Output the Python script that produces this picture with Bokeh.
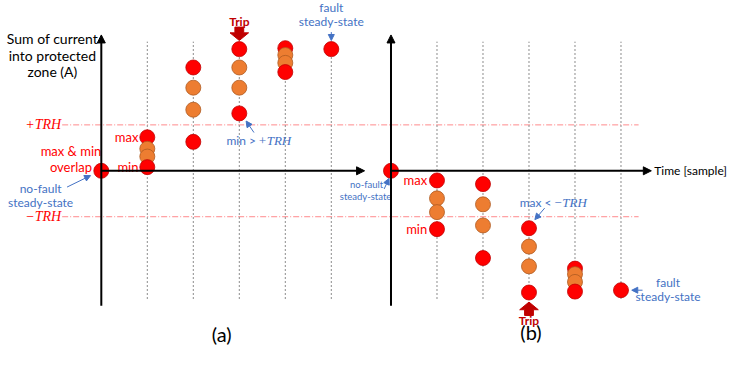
from bokeh.plotting import figure
from bokeh.models import Range1d, Arrow, NormalHead
from bokeh.core.properties import value
from bokeh.embed import file_html
from bokeh.resources import INLINE

# ---------------- data (current in units of TRH, time in samples) ----------------
TRH = 1.0
samples = [1, 2, 3, 4]
guide_samples = [1, 2, 3, 4, 5]
steady_samples = [0, 5]

# panel (a): positive fault
a_max = [0.73, 2.25, 2.65, 2.67]
a_upper = [0.48, 1.81, 2.25, 2.52]
a_lower = [0.31, 1.33, 1.81, 2.35]
a_min = [0.08, 0.63, 1.25, 2.15]
a_steady = [0.0, 2.65]

# panel (b): negative fault
b_max = [-0.21, -0.29, -1.25, -2.13]
b_upper = [-0.60, -0.73, -1.65, -2.25]
b_lower = [-0.90, -1.19, -2.08, -2.42]
b_min = [-1.27, -1.90, -2.65, -2.63]
b_steady = [0.0, -2.60]

# ---------------- layout helpers ----------------
PX_X = 47.0   # pixels per sample
PX_Y = 48.0   # pixels per TRH
ORIG_X, ORIG_Y = 103.0, 178.0


def X(px):
    return (px - ORIG_X) / PX_X


def Y(py):
    return (ORIG_Y - py) / PX_Y


B_OFF = X(399)
AX_TOP, AX_BOT = Y(36), Y(319)
GUIDE_TOP, GUIDE_BOT = Y(43), Y(312)

RED = "#FF0000"
RED_LINE = "#C00000"
ORANGE = "#ED7D31"
ORANGE_LINE = "#AE5A21"
BLUE = "#4472C4"
DARKRED = "#C00000"
FONT = value("Lato")
MATH = value("Liberation Serif")

p = figure(width=735, height=354, x_range=Range1d(X(0), X(751)),
           y_range=Range1d(Y(370), Y(0)), output_backend="svg",
           toolbar_location=None, min_border=0)
p.xaxis.visible = False
p.yaxis.visible = False
p.xgrid.grid_line_color = None
p.ygrid.grid_line_color = None
p.outline_line_color = None
p.background_fill_color = "white"

# TRH lines
for lvl in (TRH, -TRH):
    p.segment(x0=[X(63)], y0=[lvl], x1=[X(652)], y1=[lvl], line_color="#FF8A8C",
              line_width=1, line_dash="6 2 1 2")

# vertical guides
for off in (0.0, B_OFF):
    xs = [s + off for s in guide_samples]
    p.segment(x0=xs, y0=[GUIDE_BOT] * len(xs), x1=xs, y1=[GUIDE_TOP] * len(xs),
              line_color="#8C8C8C", line_width=1, line_dash="2 2")

# axes as arrows
for off, xend in ((0.0, X(372)), (B_OFF, X(665))):
    p.add_layout(Arrow(end=NormalHead(size=8, fill_color="black", line_color="black"),
                       x_start=off, y_start=AX_BOT, x_end=off, y_end=AX_TOP,
                       line_color="black", line_width=2))
    p.add_layout(Arrow(end=NormalHead(size=8, fill_color="black", line_color="black"),
                       x_start=off, y_start=0, x_end=xend, y_end=0,
                       line_color="black", line_width=2))

# points
for off, mx, up, lo, mn, st in ((0.0, a_max, a_upper, a_lower, a_min, a_steady),
                                (B_OFF, b_max, b_upper, b_lower, b_min, b_steady)):
    xs = [s + off for s in samples]
    p.scatter(xs, mx, size=15, fill_color=RED, line_color=RED_LINE, line_width=0.8)
    p.scatter(xs, up, size=15, fill_color=ORANGE, line_color=ORANGE_LINE, line_width=0.8)
    p.scatter(xs, lo, size=15, fill_color=ORANGE, line_color=ORANGE_LINE, line_width=0.8)
    p.scatter(xs, mn, size=15, fill_color=RED, line_color=RED_LINE, line_width=0.8)
    p.scatter([s + off for s in steady_samples], st, size=15, fill_color=RED,
              line_color=RED_LINE, line_width=0.8)


def txt(x, y, s, color="black", size="13px", align="center", font=FONT,
        style="normal", baseline="middle"):
    p.text(x=[x], y=[y], text=[s], text_color=color, text_font=font,
           text_font_size=size, text_align=align, text_baseline=baseline,
           text_font_style=style)


def arrow(x0, y0, x1, y1, color=BLUE, size=6):
    p.add_layout(Arrow(end=NormalHead(size=size, fill_color=color, line_color=color),
                       x_start=x0, y_start=y0, x_end=x1, y_end=y1,
                       line_color=color, line_width=1))


def block_arrow(cx, tip, direction, color=DARKRED):
    # direction -1: pointing down, +1: pointing up (in data y)
    sw, hw, hl, sl = 4.5 / PX_X, 9.5 / PX_X, 8 / PX_Y, 6 / PX_Y
    d = direction
    base = tip - d * hl
    tail = base - d * sl
    xs = [cx - sw, cx + sw, cx + sw, cx + hw, cx, cx - hw, cx - sw]
    ys = [tail, tail, base, base, tip, base, base]
    p.patch(xs, ys, fill_color=color, line_color=color)


# ---- panel (a) annotations ----
for i, line in enumerate(["Sum of current", "into protected", "zone (A)"]):
    txt(X(53), Y(40 + 17 * i), line, size="14px")
txt(X(72), Y(157), "max & min", color=RED)
txt(X(72), Y(174), "overlap", color=RED)
txt(X(41), Y(197), "no-fault", color=BLUE, size="12px")
txt(X(41), Y(211), "steady-state", color=BLUE, size="12px")
arrow(X(68), Y(195), X(92), Y(183))
txt(X(62), TRH, "+TRH", color=RED, size="14px", align="right", font=MATH, style="italic")
txt(X(62), -TRH, "\u2212TRH", color=RED, size="14px", align="right", font=MATH,
    style="italic")
txt(samples[0] - 9 / PX_X, a_max[0], "max", color=RED, align="right")
txt(samples[0] - 9 / PX_X, a_min[0], "min", color=RED, align="right")
txt(X(261), Y(146), "min >", color=BLUE, size="12px", align="right")
txt(X(263), Y(146), "+TRH", color=BLUE, size="13px", align="left", font=MATH,
    style="italic")
arrow(X(259), Y(138), X(251), Y(126))
txt(samples[2], Y(22), "Trip", color=DARKRED, size="12px", style="bold")
block_arrow(samples[2], a_max[2] + 9 / PX_Y, -1)
txt(steady_samples[1], Y(7), "fault", color=BLUE, size="12px")
txt(steady_samples[1], Y(22), "steady-state", color=BLUE, size="12px")
arrow(steady_samples[1], Y(33), steady_samples[1], a_steady[1] + 9 / PX_Y, size=6)
txt(X(226), Y(349), "(a)", size="20px")

# ---- panel (b) annotations ----
txt(X(374), Y(192), "no-fault", color=BLUE, size="9.5px")
txt(X(373), Y(205), "steady-state", color=BLUE, size="9.5px")
arrow(X(392), Y(197), X(397), Y(186))
txt(B_OFF + samples[0] - 10 / PX_X, b_max[0], "max", color=RED, align="right")
txt(B_OFF + samples[0] - 10 / PX_X, b_min[0], "min", color=RED, align="right")
txt(X(563), Y(211), "max <", color=BLUE, size="12px", align="right")
txt(X(565), Y(211), "\u2212TRH", color=BLUE, size="13px", align="left", font=MATH,
    style="italic")
arrow(X(556), Y(217), X(546), Y(229))
block_arrow(B_OFF + samples[2], b_min[2] - 10 / PX_Y, 1)
txt(B_OFF + samples[2], Y(334), "Trip", color=DARKRED, size="12px", style="bold")
txt(X(682), Y(295), "fault", color=BLUE, size="12px")
txt(X(682), Y(309), "steady-state", color=BLUE, size="12px")
arrow(X(656), b_steady[1], B_OFF + steady_samples[1] + 11 / PX_X, b_steady[1])
txt(X(668), 0, "Time [sample]", size="12px", align="left")
txt(X(542), Y(347), "(b)", size="20px")

open("out.html", "w").write(file_html(p, INLINE))
